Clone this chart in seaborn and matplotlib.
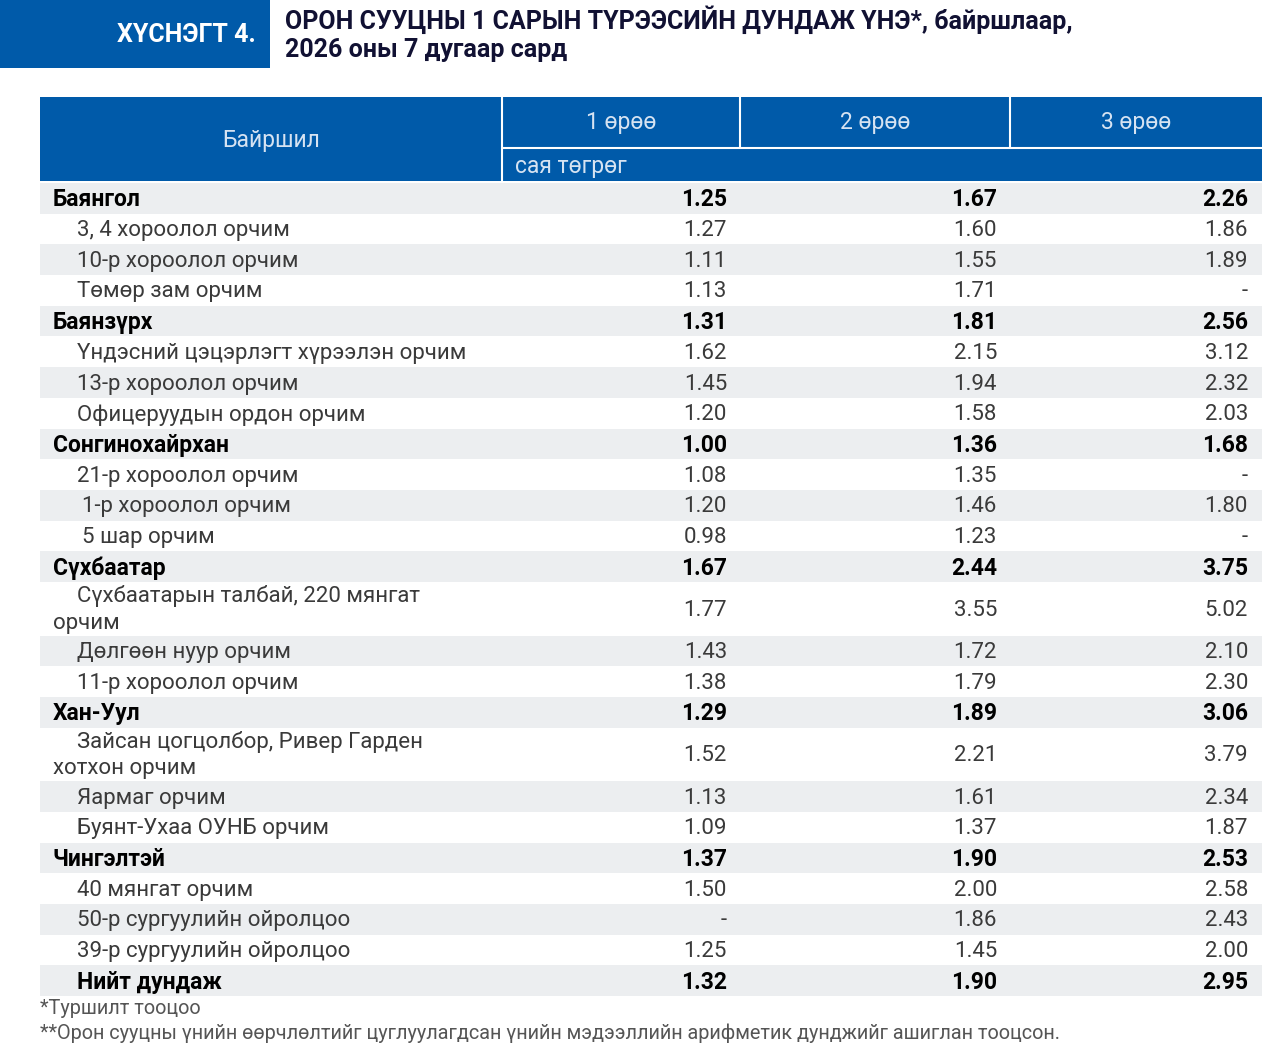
import numpy as np
import matplotlib
matplotlib.use("Agg")
import matplotlib.pyplot as plt
from matplotlib.patches import Rectangle
import seaborn as sns

# table data
locations = [
    "Баянгол", "3, 4 хороолол орчим", "10-р хороолол орчим", "Төмөр зам орчим",
    "Баянзүрх", "Үндэсний цэцэрлэгт хүрээлэн орчим", "13-р хороолол орчим",
    "Офицеруудын ордон орчим",
    "Сонгинохайрхан", "21-р хороолол орчим", "1-р хороолол орчим", "5 шар орчим",
    "Сүхбаатар", "Сүхбаатарын талбай, 220 мянгат\nорчим", "Дөлгөөн нуур орчим",
    "11-р хороолол орчим",
    "Хан-Уул", "Зайсан цогцолбор, Ривер Гарден\nхотхон орчим", "Яармаг орчим",
    "Буянт-Ухаа ОУНБ орчим",
    "Чингэлтэй", "40 мянгат орчим", "50-р сургуулийн ойролцоо",
    "39-р сургуулийн ойролцоо",
    "Нийт дундаж",
]
is_district = [1, 0, 0, 0, 1, 0, 0, 0, 1, 0, 0, 0, 1, 0, 0, 0, 1, 0, 0, 0, 1, 0, 0, 0, 1]
room1 = [1.25, 1.27, 1.11, 1.13, 1.31, 1.62, 1.45, 1.20, 1.00, 1.08, 1.20, 0.98,
         1.67, 1.77, 1.43, 1.38, 1.29, 1.52, 1.13, 1.09, 1.37, 1.50, None, 1.25, 1.32]
room2 = [1.67, 1.60, 1.55, 1.71, 1.81, 2.15, 1.94, 1.58, 1.36, 1.35, 1.46, 1.23,
         2.44, 3.55, 1.72, 1.79, 1.89, 2.21, 1.61, 1.37, 1.90, 2.00, 1.86, 1.45, 1.90]
room3 = [2.26, 1.86, 1.89, None, 2.56, 3.12, 2.32, 2.03, 1.68, None, 1.80, None,
         3.75, 5.02, 2.10, 2.30, 3.06, 3.79, 2.34, 1.87, 2.53, 2.58, 2.43, 2.00, 2.95]
col_headers = ["1 өрөө", "2 өрөө", "3 өрөө"]
unit_label = "сая төгрөг"
loc_header = "Байршил"
title_tag = "ХҮСНЭГТ 4."
title_lines = ["ОРОН СУУЦНЫ 1 САРЫН ТҮРЭЭСИЙН ДУНДАЖ ҮНЭ*, байршлаар,",
               "2026 оны 7 дугаар сард"]
footnotes = ["*Туршилт тооцоо",
             "**Орон сууцны үнийн өөрчлөлтийг цуглуулагдсан үнийн мэдээллийн "
             "арифметик дунджийг ашиглан тооцсон."]

sns.set_theme(style="white")
plt.rcParams["font.family"] = ["Roboto", "DejaVu Sans"]

BLUE = "#005aa9"
GRAY = "#eceef0"
HEAD_TXT = "#d6e3f2"
FS = 16

fig = plt.figure(figsize=(12.8, 10.44), dpi=100)
ax = fig.add_axes([0, 0, 1, 1])
ax.set_xlim(0, 1280)
ax.set_ylim(1044, 0)
ax.axis("off")

# title block
ax.add_patch(Rectangle((0, 0), 270, 68, color=BLUE, lw=0))
ax.text(256, 35, title_tag, color="white", fontsize=18, fontweight="bold",
        ha="right", va="center")
ax.text(285, 20, title_lines[0], color="#111133", fontsize=18, fontweight="bold",
        ha="left", va="center")
ax.text(285, 50, title_lines[1], color="#111133", fontsize=18, fontweight="bold",
        ha="left", va="center")

# header
left, right = 40, 1262
col_edges = [502, 740, 1010, right]
ax.add_patch(Rectangle((left, 97), right - left, 84, color=BLUE, lw=0))
ax.plot([502, 502], [97, 181], color="white", lw=1.5)
for xe in col_edges[1:3]:
    ax.plot([xe, xe], [97, 147], color="white", lw=1.5)
ax.plot([502, right], [147.5, 147.5], color="white", lw=1.5)
ax.text((left + 502) / 2, 140, loc_header, color=HEAD_TXT, fontsize=16.5,
        ha="center", va="center")
for i, h in enumerate(col_headers):
    ax.text((col_edges[i] + col_edges[i + 1]) / 2, 123, h, color=HEAD_TXT,
            fontsize=16.5, ha="center", va="center")
ax.text(515, 166, unit_label, color=HEAD_TXT, fontsize=16.5, ha="left", va="center")

# body rows
h1, h2 = 30.7, 53.5
y = 183
value_right = [727, 997, 1248]
for i, loc in enumerate(locations):
    two = "\n" in loc
    rh = h2 if two else h1
    if i % 2 == 0:
        ax.add_patch(Rectangle((left, y), right - left, rh, color=GRAY, lw=0))
    yc = y + rh / 2 + 1.5
    bold = is_district[i] == 1
    weight = "bold" if bold else "normal"
    color = "#000000" if bold else "#3a3a3a"
    fs = 16.5 if bold else FS
    indent = 53 if bold and loc != "Нийт дундаж" else 77
    if loc.startswith("1-р") or loc.startswith("5 шар"):
        indent = 82
    if two:
        first, second = loc.split("\n")
        ax.text(indent, yc - 14, first, fontsize=fs, color=color,
                fontweight=weight, ha="left", va="center")
        ax.text(53, yc + 13, second, fontsize=fs, color=color,
                fontweight=weight, ha="left", va="center")
    else:
        ax.text(indent, yc, loc, fontsize=fs, color=color, fontweight=weight,
                ha="left", va="center")
    for xr, vals in zip(value_right, [room1, room2, room3]):
        v = vals[i]
        s = "-" if v is None else f"{v:.2f}"
        ax.text(xr, yc, s, fontsize=fs, color=color, fontweight=weight,
                ha="right", va="center")
    y += rh

ax.text(40, 1008, footnotes[0], fontsize=14.3, color="#555555", ha="left", va="center")
ax.text(40, 1033, footnotes[1], fontsize=14.3, color="#555555", ha="left", va="center")

fig.savefig("out.png", dpi=100)
